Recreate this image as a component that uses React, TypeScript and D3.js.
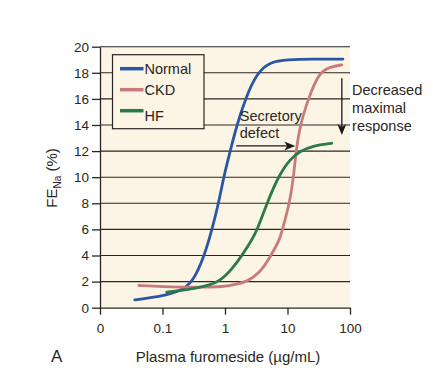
import { useEffect, useRef } from "react";
import * as d3 from "d3";

// readings taken off the figure: dose in µg/mL, FE_Na in %
const normalDose = [0.036, 0.063, 0.12, 0.2, 0.31, 0.47, 0.62, 0.79, 0.95, 1.21, 1.55, 2.11, 3.24, 5.3, 10, 25, 77];
const normalFe = [0.6, 0.75, 1.0, 1.3, 2, 4, 6, 8, 10, 12, 14, 16, 18, 18.85, 19.0, 19.05, 19.05];

const ckdDose = [0.042, 0.1, 0.3, 1.0, 1.54, 2.25, 3.6, 5.3, 7.5, 8.3, 10.8, 12.5, 13.7, 15.9, 21.5, 31.5, 48.7, 74];
const ckdFe = [1.7, 1.62, 1.55, 1.6, 1.8, 2.0, 2.65, 3.9, 5.2, 6, 8, 10, 12, 14, 16, 18, 18.47, 18.6];

const hfDose = [0.117, 0.25, 0.45, 0.84, 1.37, 1.86, 2.7, 3.3, 4.7, 7.0, 11, 16, 25, 51];
const hfFe = [1.2, 1.38, 1.6, 2.0, 3.1, 4, 5.2, 6, 8, 10, 11.4, 12, 12.4, 12.6];

const seriesNames = ["Normal", "CKD", "HF"];
const seriesColors = ["#2b56a6", "#c97b7b", "#2a7b47"];

const xTicks = [0.01, 0.1, 1, 10, 100];
const xTickLabels = ["0", "0.1", "1", "10", "100"];
const yTicks = [0, 2, 4, 6, 8, 10, 12, 14, 16, 18, 20];

const secretoryLines = ["Secretory", "defect"];
const decreasedLines = ["Decreased", "maximal", "response"];

const FONT = "'Liberation Sans', Arial, Helvetica, sans-serif";

const App = () => {
  const svgRef = useRef<SVGSVGElement>(null);
  const width = 433;
  const height = 374;

  useEffect(() => {
    const svg = d3.select(svgRef.current);
    svg.selectAll("*").remove();

    const x = d3.scaleLog().domain([0.01, 100]).range([100, 350]);
    const y = d3.scaleLinear().domain([0, 20]).range([307.7, 46.7]);

    // plot background
    svg
      .append("rect")
      .attr("x", x(0.01))
      .attr("y", y(20))
      .attr("width", x(100) - x(0.01))
      .attr("height", y(0) - y(20))
      .attr("fill", "#fcf4e4");

    // horizontal grid
    svg
      .append("g")
      .selectAll("line")
      .data(yTicks.filter((d) => d > 0))
      .enter()
      .append("line")
      .attr("x1", x(0.01))
      .attr("x2", x(100))
      .attr("y1", (d) => y(d))
      .attr("y2", (d) => y(d))
      .attr("stroke", "#2a2622")
      .attr("stroke-width", 1.1);

    // curves
    const series = [
      { dose: normalDose, fe: normalFe },
      { dose: ckdDose, fe: ckdFe },
      { dose: hfDose, fe: hfFe },
    ];
    const line = d3
      .line<[number, number]>()
      .x((d) => x(d[0]))
      .y((d) => y(d[1]))
      .curve(d3.curveBasis);

    series.forEach((s, i) => {
      const pts = s.dose.map((d, j) => [d, s.fe[j]] as [number, number]);
      svg
        .append("path")
        .attr("d", line(pts))
        .attr("fill", "none")
        .attr("stroke", seriesColors[i])
        .attr("stroke-width", 2.8)
        .attr("stroke-linecap", "round")
        .attr("stroke-linejoin", "round");
    });

    // legend
    const lg = svg.append("g").attr("transform", "translate(112.5,54.7)");
    lg.append("rect")
      .attr("width", 91.5)
      .attr("height", 74)
      .attr("fill", "#fcf4e4")
      .attr("stroke", "#2a2622")
      .attr("stroke-width", 1.2);
    seriesNames.forEach((name, i) => {
      const yy = 14 + i * 21;
      lg.append("line")
        .attr("x1", 7.5)
        .attr("x2", 31)
        .attr("y1", yy)
        .attr("y2", yy)
        .attr("stroke", seriesColors[i])
        .attr("stroke-width", 3.5);
      lg.append("text")
        .attr("x", 32)
        .attr("y", yy + (i === 2 ? 10 : 5))
        .attr("font-family", FONT)
        .attr("font-size", 14.5)
        .attr("fill", "#2a2622")
        .text(name);
    });

    // annotations
    const ann = svg
      .append("g")
      .attr("font-family", FONT)
      .attr("font-size", 14.5)
      .attr("fill", "#2a2622");
    secretoryLines.forEach((t, i) => {
      ann.append("text")
        .attr("x", x(1.72))
        .attr("y", y(14.27) + i * 16.5)
        .text(t);
    });
    decreasedLines.forEach((t, i) => {
      ann.append("text")
        .attr("x", x(108))
        .attr("y", y(16.3) + i * 18)
        .text(t);
    });

    // secretory defect arrow
    const hx0 = x(1.51);
    const hx1 = x(13.3);
    const hy = y(12.4);
    svg.append("line")
      .attr("x1", hx0)
      .attr("x2", hx1 - 6)
      .attr("y1", hy)
      .attr("y2", hy)
      .attr("stroke", "#1a1a1a")
      .attr("stroke-width", 1.3);
    svg.append("path")
      .attr("d", `M${hx1},${hy} L${hx1 - 11},${hy - 4.5} L${hx1 - 8},${hy} L${hx1 - 11},${hy + 4.5} Z`)
      .attr("fill", "#1a1a1a");

    // decreased maximal response arrow
    const vx = x(74);
    const vy0 = y(17.58);
    const vy1 = y(13.23);
    svg.append("line")
      .attr("x1", vx)
      .attr("x2", vx)
      .attr("y1", vy0)
      .attr("y2", vy1 - 6)
      .attr("stroke", "#1a1a1a")
      .attr("stroke-width", 1.3);
    svg.append("path")
      .attr("d", `M${vx},${vy1} L${vx - 4.5},${vy1 - 11} L${vx},${vy1 - 8} L${vx + 4.5},${vy1 - 11} Z`)
      .attr("fill", "#1a1a1a");

    // axes
    const yAxis = d3.axisLeft(y).tickValues(yTicks).tickSize(8).tickSizeOuter(0).tickPadding(3);
    const gy = svg.append("g").attr("transform", `translate(${x(0.01)},0)`).call(yAxis);
    const xAxis = d3
      .axisBottom(x)
      .tickValues(xTicks)
      .tickFormat((_d, i) => xTickLabels[i])
      .tickSize(7)
      .tickSizeOuter(0)
      .tickPadding(9);
    const gx = svg.append("g").attr("transform", `translate(0,${y(0)})`).call(xAxis);

    [gx, gy].forEach((g) => {
      g.select(".domain").attr("stroke", "#2a2622").attr("stroke-width", 1.3);
      g.selectAll(".tick line").attr("stroke", "#2a2622").attr("stroke-width", 1.3);
      g.selectAll(".tick text")
        .attr("font-family", FONT)
        .attr("font-size", 13.5)
        .attr("fill", "#2a2622");
    });

    // axis titles
    const yl = svg
      .append("text")
      .attr("transform", "translate(57,178) rotate(-90)")
      .attr("text-anchor", "middle")
      .attr("font-family", FONT)
      .attr("font-size", 15)
      .attr("fill", "#2a2622");
    yl.append("tspan").text("FE");
    yl.append("tspan").attr("font-size", 10).attr("dy", 3.5).text("Na");
    yl.append("tspan").attr("dy", -3.5).text(" (%)");

    svg.append("text")
      .attr("x", 228)
      .attr("y", 362)
      .attr("text-anchor", "middle")
      .attr("font-family", FONT)
      .attr("font-size", 15)
      .attr("fill", "#2a2622")
      .text("Plasma furomeside (µg/mL)");

    svg.append("text")
      .attr("x", 51)
      .attr("y", 362)
      .attr("font-family", FONT)
      .attr("font-size", 17)
      .attr("fill", "#2a2622")
      .text("A");
  }, []);

  return (
    <svg
      ref={svgRef}
      width={width}
      height={height}
      style={{ position: "absolute", left: 0, top: 0, background: "#fff" }}
    />
  );
};

export default App;
